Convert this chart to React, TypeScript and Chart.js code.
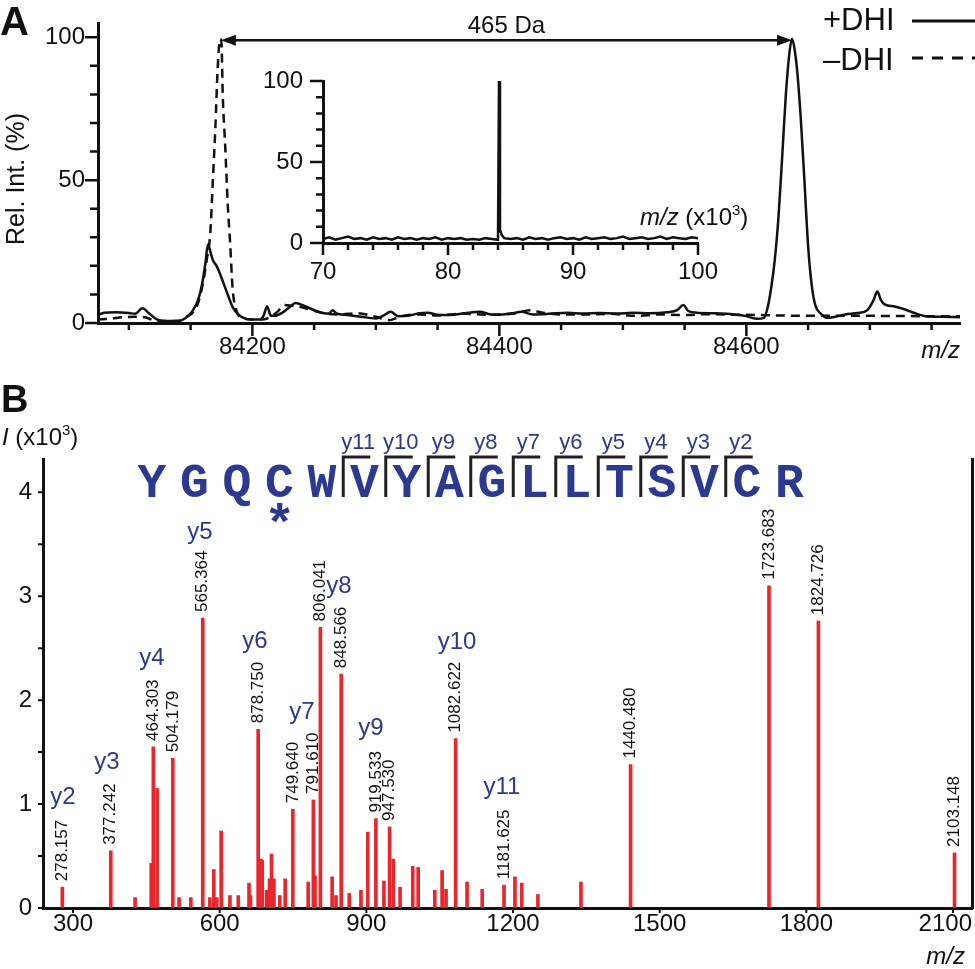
import React, { useEffect, useRef } from 'react';
import { Chart, registerables } from 'chart.js';

Chart.register(...registerables);

const SANS = '"Liberation Sans", Arial, Helvetica, sans-serif';
const MONO = '"Liberation Mono", "Courier New", monospace';
const BLUE = '#2b3990';
const RED = '#e8262b';
const INK = '#111111';

// ---------------- Panel A : deconvoluted spectra ----------------
const plusMz = [84075, 84080, 84090, 84100, 84105, 84111, 84116, 84123, 84132, 84141, 84148, 84152, 84156, 84159, 84162, 84164, 84166, 84168, 84171, 84174, 84177, 84180, 84184, 84188, 84192, 84200, 84206, 84209, 84212, 84215, 84218, 84225, 84230, 84235, 84242, 84250, 84257, 84262, 84265, 84268, 84277, 84288, 84300, 84306, 84312, 84318, 84326, 84334, 84342, 84350, 84360, 84372, 84384, 84392, 84400, 84410, 84418, 84427, 84440, 84455, 84468, 84481, 84495, 84508, 84522, 84536, 84544, 84549, 84553, 84560, 84575, 84590, 84600, 84608, 84614, 84617, 84620, 84623, 84626, 84629, 84632, 84635, 84637, 84639, 84641, 84644, 84647, 84650, 84653, 84656, 84660, 84665, 84672, 84680, 84690, 84698, 84703, 84706, 84709, 84712, 84720, 84728, 84736, 84745, 84760, 84773];
const plusInt = [2.8, 3.6, 3.8, 3.5, 3.2, 5.2, 3.5, 1.2, 0.7, 0.8, 2.5, 4.5, 8, 13, 21, 27.5, 25, 22, 20, 17, 13.5, 10, 5.6, 3.2, 2, 1.2, 1.2, 2.5, 5.8, 2.5, 2.5, 3.8, 5.5, 7, 6, 4.5, 3.5, 3.3, 4.5, 3.4, 2.8, 2.2, 1.6, 2.6, 3.9, 2.4, 2.5, 3.3, 3.6, 2.9, 2.8, 3.4, 3.9, 3.1, 2.9, 3.4, 3.9, 3.0, 3.2, 3.6, 3.3, 3.5, 3.3, 3.6, 3.4, 3.8, 4.5, 6.3, 4.2, 3.6, 3.4, 3.0, 2.4, 1.5, 1.7, 5, 12, 22, 37, 58, 80, 95, 99.5, 96, 89, 72, 50, 27, 13, 6, 3.4, 1.8, 2.2, 3, 3.5, 4.5, 8, 11, 8, 6.5, 5.8, 4.8, 3.5, 2.4, 2.2, 2];
const minusMz = [84075, 84085, 84095, 84105, 84113, 84120, 84130, 84141, 84148, 84152, 84156, 84160, 84163, 84166, 84168, 84170, 84172, 84174, 84175, 84176, 84178, 84180, 84182, 84184, 84187, 84192, 84200, 84210, 84216, 84220, 84226, 84232, 84240, 84250, 84260, 84270, 84285, 84300, 84311, 84320, 84335, 84350, 84370, 84390, 84410, 84425, 84435, 84450, 84470, 84490, 84510, 84530, 84550, 84570, 84590, 84608, 84630, 84660, 84700, 84740, 84773];
const minusInt = [1.2, 1.5, 2, 2.2, 2.0, 1.0, 0.7, 0.8, 2.5, 3.8, 7, 14, 22, 32, 50, 68, 90, 99.5, 98, 80, 62, 42, 28, 12, 4.5, 1.7, 1.2, 1.3, 2.6, 3.8, 6.3, 6, 5.5, 4.3, 3.2, 3.0, 3.4, 2.2, 1.0, 2.3, 3.0, 2.6, 3.3, 2.9, 3.2, 4.5, 3.6, 3.0, 3.0, 3.2, 2.5, 3.0, 2.8, 3.1, 2.9, 2.8, 2.6, 2.5, 2.5, 2.4, 2.4];
const aTicksX = [84200, 84400, 84600];
const aMinorX = [84100, 84150, 84250, 84300, 84350, 84450, 84500, 84550, 84650, 84700, 84750];
const aTicksY = [0, 50, 100];
const aMinorY = [10, 20, 30, 40, 60, 70, 80, 90];
const shiftFrom = 84174.5;
const shiftTo = 84637;
const shiftLevel = 99;
const shiftText = '465 Da';

// ---------------- Inset : full range ----------------
const insetMz = [70, 70.5, 71, 71.5, 72, 72.5, 73, 73.5, 74, 74.5, 75, 75.5, 76, 76.5, 77, 77.5, 78, 78.5, 79, 79.5, 80, 80.5, 81, 81.5, 82, 82.5, 83, 83.5, 84, 84.08, 84.16, 84.3, 84.5, 85, 85.5, 86, 86.5, 87, 87.5, 88, 88.5, 89, 89.5, 90, 90.5, 91, 91.5, 92, 92.5, 93, 93.5, 94, 94.5, 95, 95.5, 96, 96.5, 97, 97.5, 98, 98.5, 99, 99.5, 100];
const insetInt = [2.5, 3.5, 2, 3, 4, 2.5, 3, 2, 3.5, 2.5, 3, 2, 3.5, 2.5, 3, 2, 3, 2.5, 3.5, 2, 3, 2.5, 3, 2, 2.5, 2, 3, 2.5, 2, 100, 8, 5, 3, 2.5, 3, 2, 3.5, 2.5, 3, 2, 3, 3.5, 2.5, 3, 2, 3.5, 2.5, 3, 3.5, 2.5, 3, 4, 2.5, 3, 3.5, 2.5, 3, 4, 2.5, 3.5, 3, 2.5, 3.5, 3];
const iTicksX = [70, 80, 90, 100];
const iMinorX = [72, 74, 76, 78, 82, 84, 86, 88, 92, 94, 96, 98];
const iTicksY = [0, 50, 100];
const iMinorY = [10, 20, 30, 40, 60, 70, 80, 90];

// ---------------- Panel B : MS/MS spectrum ----------------
const labeledMz = [278.157, 377.242, 464.303, 504.179, 565.364, 678.75, 749.64, 791.61, 806.041, 848.566, 919.533, 947.53, 1082.622, 1181.625, 1440.48, 1723.683, 1824.726, 2103.148];
const labeledInt = [0.20, 0.55, 1.55, 1.44, 2.79, 1.72, 0.95, 1.04, 2.70, 2.25, 0.86, 0.78, 1.63, 0.22, 1.38, 3.10, 2.76, 0.53];
const labeledText = ['278.157', '377.242', '464.303', '504.179', '565.364', '878.750', '749.640', '791.610', '806.041', '848.566', '919.533', '947.530', '1082.622', '1181.625', '1440.480', '1723.683', '1824.726', '2103.148'];
const otherMz = [427, 460, 472, 517, 541, 580, 588, 594, 603, 621, 638, 660, 663, 684, 687, 696, 702, 706, 711, 723, 734, 781, 795, 830, 838, 865, 889, 903, 936, 955, 969, 995, 1006, 1040, 1055, 1063, 1106, 1137, 1204, 1218, 1251, 1339];
const otherInt = [0.10, 0.43, 1.15, 0.10, 0.10, 0.10, 0.37, 0.10, 0.74, 0.12, 0.12, 0.24, 0.12, 0.47, 0.46, 0.17, 0.28, 0.52, 0.28, 0.12, 0.28, 0.25, 0.31, 0.30, 0.12, 0.14, 0.17, 0.73, 0.26, 0.47, 0.20, 0.40, 0.39, 0.17, 0.36, 0.18, 0.25, 0.18, 0.30, 0.24, 0.13, 0.25];
const ionNames = ['y2', 'y3', 'y4', 'y5', 'y6', 'y7', 'y8', 'y9', 'y10', 'y11'];
const ionMz = [279.5, 369.5, 461.6, 559.8, 672.3, 768.4, 844.1, 909.5, 1085.4, 1177.5];
const ionInt = [1.06, 1.40, 2.40, 3.61, 2.57, 1.88, 3.09, 1.73, 2.56, 1.16];
const peptide = ['Y', 'G', 'Q', 'C', 'W', 'V', 'Y', 'A', 'G', 'L', 'L', 'T', 'S', 'V', 'C', 'R'];
const fragmentStart = 5; // first residue preceded by a y-ion cleavage bracket
const modifiedIndex = 3; // Cys carrying the adduct (*)
const bTicksX = [300, 600, 900, 1200, 1500, 1800, 2100];
const bTicksY = [0, 1, 2, 3, 4];
const bMinorY = [0.5, 1.5, 2.5, 3.5];

type Seg = { t: string; font: string; dy?: number };
function drawSegs(ctx: CanvasRenderingContext2D, segs: Seg[], x: number, y: number, color: string) {
  let cx = x;
  ctx.fillStyle = color;
  ctx.textAlign = 'left';
  ctx.textBaseline = 'alphabetic';
  for (const s of segs) {
    ctx.font = s.font;
    ctx.fillText(s.t, cx, y + (s.dy || 0));
    cx += ctx.measureText(s.t).width;
  }
}

function tickMarks(ctx: CanvasRenderingContext2D, scale: any, values: number[], len: number, width: number) {
  ctx.save();
  ctx.strokeStyle = INK;
  ctx.lineWidth = width;
  ctx.beginPath();
  for (const v of values) {
    const p = scale.getPixelForValue(v);
    if (scale.isHorizontal()) {
      ctx.moveTo(p, scale.top);
      ctx.lineTo(p, scale.top + len);
    } else {
      ctx.moveTo(scale.right, p);
      ctx.lineTo(scale.right - len, p);
    }
  }
  ctx.stroke();
  ctx.restore();
}

function fixedTicks(values: number[]) {
  return (s: any) => {
    s.ticks = values.map((v) => ({ value: v }));
  };
}

function axis(min: number, max: number, ticks: number[], size: number, padding: number, horizontal: boolean, showLabels = true) {
  return {
    type: 'linear' as const,
    min,
    max,
    offset: false,
    afterBuildTicks: fixedTicks(ticks),
    afterFit: (s: any) => {
      if (horizontal) s.height = size;
      else s.width = size;
      s.paddingLeft = 0;
      s.paddingRight = 0;
      s.paddingTop = 0;
      s.paddingBottom = 0;
    },
    grid: { display: true, drawOnChartArea: false, drawTicks: false, offset: false },
    border: { display: true, color: INK, width: 3 },
    ticks: {
      display: showLabels,
      color: INK,
      padding,
      autoSkip: false,
      maxRotation: 0,
      font: { family: SANS, size: 24, lineHeight: 1 },
      callback: (v: any) => String(v),
    },
  };
}

function makeA(canvas: HTMLCanvasElement) {
  const decor = {
    id: 'decorA',
    afterDraw(chart: any) {
      const { ctx } = chart;
      const x = chart.scales.x;
      const y = chart.scales.y;
      tickMarks(ctx, x, aTicksX, 13, 2.5);
      tickMarks(ctx, x, aMinorX, 7, 2.5);
      tickMarks(ctx, y, aTicksY, 13, 2.5);
      tickMarks(ctx, y, aMinorY, 8, 2.5);
      ctx.save();
      // mass shift arrow
      const ay = y.getPixelForValue(shiftLevel);
      const x1 = x.getPixelForValue(shiftFrom);
      const x2 = x.getPixelForValue(shiftTo);
      ctx.strokeStyle = INK;
      ctx.fillStyle = INK;
      ctx.lineWidth = 2.5;
      ctx.beginPath();
      ctx.moveTo(x1 + 10, ay);
      ctx.lineTo(x2 - 10, ay);
      ctx.stroke();
      ctx.beginPath();
      ctx.moveTo(x1, ay);
      ctx.lineTo(x1 + 15, ay - 5.5);
      ctx.lineTo(x1 + 15, ay + 5.5);
      ctx.closePath();
      ctx.fill();
      ctx.beginPath();
      ctx.moveTo(x2, ay);
      ctx.lineTo(x2 - 15, ay - 5.5);
      ctx.lineTo(x2 - 15, ay + 5.5);
      ctx.closePath();
      ctx.fill();
      ctx.font = `24px ${SANS}`;
      ctx.textAlign = 'center';
      ctx.textBaseline = 'alphabetic';
      ctx.fillText(shiftText, (x1 + x2) / 2, ay - 7);
      // panel letter
      ctx.font = `bold 40px ${SANS}`;
      ctx.textAlign = 'left';
      ctx.fillText('A', 0, 35);
      // axis titles
      ctx.save();
      ctx.translate(17, 179);
      ctx.rotate(-Math.PI / 2);
      ctx.font = `25px ${SANS}`;
      ctx.textAlign = 'center';
      ctx.textBaseline = 'middle';
      ctx.fillText('Rel. Int. (%)', 0, 0);
      ctx.restore();
      ctx.font = `italic 24px ${SANS}`;
      ctx.textAlign = 'right';
      ctx.fillText('m/z', 960, 358);
      // legend
      ctx.font = `31px ${SANS}`;
      ctx.textAlign = 'left';
      ctx.fillText('+DHI', 823, 30);
      ctx.fillText('\u2013DHI', 823, 70);
      ctx.lineWidth = 3;
      ctx.beginPath();
      ctx.moveTo(912, 21);
      ctx.lineTo(975, 21);
      ctx.stroke();
      ctx.setLineDash([11, 9]);
      ctx.beginPath();
      ctx.moveTo(912, 58);
      ctx.lineTo(975, 58);
      ctx.stroke();
      ctx.restore();
    },
  };
  return new Chart(canvas, {
    type: 'line',
    data: {
      datasets: [
        {
          label: '+DHI',
          data: plusMz.map((v, i) => ({ x: v, y: plusInt[i] })),
          borderColor: INK,
          borderWidth: 2.5,
          pointRadius: 0,
          cubicInterpolationMode: 'monotone',
          fill: false,
        },
        {
          label: '\u2013DHI',
          data: minusMz.map((v, i) => ({ x: v, y: minusInt[i] })),
          borderColor: INK,
          borderWidth: 2.5,
          borderDash: [9, 6],
          pointRadius: 0,
          cubicInterpolationMode: 'monotone',
          fill: false,
        },
      ],
    },
    options: {
      animation: false,
      responsive: false,
      maintainAspectRatio: false,
      layout: { padding: { top: 23, right: 15, left: 0, bottom: 0 } },
      plugins: { legend: { display: false }, tooltip: { enabled: false } },
      scales: {
        x: axis(84075, 84773, aTicksX, 47, 12, true),
        y: axis(0, 105, aTicksY, 98, 13, false),
      },
    } as any,
    plugins: [decor],
  });
}

function makeInset(canvas: HTMLCanvasElement) {
  const decor = {
    id: 'decorInset',
    afterDraw(chart: any) {
      const { ctx } = chart;
      tickMarks(ctx, chart.scales.x, iTicksX, 12, 2.5);
      tickMarks(ctx, chart.scales.x, iMinorX, 7, 2.5);
      tickMarks(ctx, chart.scales.y, iTicksY, 13, 2.5);
      tickMarks(ctx, chart.scales.y, iMinorY, 7, 2.5);
      drawSegs(
        ctx,
        [
          { t: 'm/z', font: `italic 24px ${SANS}` },
          { t: ' (x10', font: `24px ${SANS}` },
          { t: '3', font: `15px ${SANS}`, dy: -10 },
          { t: ')', font: `24px ${SANS}` },
        ],
        400,
        165,
        INK,
      );
    },
  };
  return new Chart(canvas, {
    type: 'line',
    data: {
      datasets: [
        {
          label: 'full',
          data: insetMz.map((v, i) => ({ x: v, y: insetInt[i] })),
          borderColor: INK,
          borderWidth: 2.5,
          pointRadius: 0,
          tension: 0,
          fill: false,
        },
      ],
    },
    options: {
      animation: false,
      responsive: false,
      maintainAspectRatio: false,
      layout: { padding: { top: 21, right: 82, left: 0, bottom: 0 } },
      plugins: { legend: { display: false }, tooltip: { enabled: false } },
      scales: {
        x: axis(70, 100, iTicksX, 57, 17, true),
        y: axis(0, 100, iTicksY, 83, 20, false),
      },
    } as any,
    plugins: [decor],
  });
}

function makeB(canvas: HTMLCanvasElement) {
  const top = 370; // page offset of this canvas
  const seqX = (i: number) => 152 + i * 42.5;
  const decor = {
    id: 'decorB',
    afterDraw(chart: any) {
      const { ctx } = chart;
      const x = chart.scales.x;
      const y = chart.scales.y;
      tickMarks(ctx, x, bTicksX, 5, 2);
      tickMarks(ctx, y, bTicksY, 5, 2);
      tickMarks(ctx, y, bMinorY, 5, 2);
      ctx.save();
      // x tick labels (kept inside the canvas at the right edge)
      ctx.fillStyle = INK;
      ctx.font = `24px ${SANS}`;
      ctx.textAlign = 'center';
      ctx.textBaseline = 'middle';
      const W = chart.width;
      bTicksX.forEach((v) => {
        const t = String(v);
        const w = ctx.measureText(t).width;
        const px = Math.min(x.getPixelForValue(v), W - w / 2 - 3);
        ctx.fillText(t, px, x.top + 16);
      });
      // peak m/z labels
      ctx.font = `17px ${SANS}`;
      labeledMz.forEach((m, i) => {
        const px = x.getPixelForValue(m);
        const py = y.getPixelForValue(labeledInt[i]);
        ctx.save();
        ctx.translate(px, py - 6);
        ctx.rotate(-Math.PI / 2);
        ctx.textAlign = 'left';
        ctx.textBaseline = 'middle';
        ctx.fillText(labeledText[i], 0, 0);
        ctx.restore();
      });
      // y-ion labels
      ctx.fillStyle = BLUE;
      ctx.font = `24px ${SANS}`;
      ctx.textAlign = 'center';
      ctx.textBaseline = 'middle';
      ionNames.forEach((n, i) => {
        ctx.fillText(n, x.getPixelForValue(ionMz[i]), y.getPixelForValue(ionInt[i]));
      });
      // peptide sequence
      ctx.font = `bold 48px ${MONO}`;
      ctx.textBaseline = 'alphabetic';
      peptide.forEach((aa, i) => {
        ctx.fillText(aa, seqX(i), 497 - top);
      });
      // modification asterisk
      ctx.font = `bold 52px ${SANS}`;
      ctx.fillText('*', seqX(modifiedIndex), 539 - top);
      // cleavage brackets
      ctx.strokeStyle = '#231f20';
      ctx.lineWidth = 3;
      ctx.font = `22px ${SANS}`;
      for (let i = fragmentStart; i < peptide.length - 1; i++) {
        const bx = (seqX(i - 1) + seqX(i)) / 2;
        ctx.beginPath();
        ctx.moveTo(bx, 497 - top);
        ctx.lineTo(bx, 457 - top);
        ctx.lineTo(bx + 27, 457 - top);
        ctx.stroke();
        ctx.fillStyle = BLUE;
        ctx.textBaseline = 'middle';
        ctx.fillText('y' + (peptide.length - i), bx + 15, 443 - top);
        ctx.textBaseline = 'alphabetic';
      }
      // panel letter and axis titles
      ctx.fillStyle = INK;
      ctx.textAlign = 'left';
      ctx.font = `bold 38px ${SANS}`;
      ctx.fillText('B', 1, 412 - top);
      drawSegs(
        ctx,
        [
          { t: 'I', font: `italic 24px ${SANS}` },
          { t: ' (x10', font: `24px ${SANS}` },
          { t: '3', font: `15px ${SANS}`, dy: -10 },
          { t: ')', font: `24px ${SANS}` },
        ],
        2,
        445 - top,
        INK,
      );
      ctx.font = `italic 24px ${SANS}`;
      ctx.textAlign = 'right';
      ctx.fillText('m/z', 965, 964 - top);
      ctx.restore();
    },
  };
  const all = labeledMz.map((m, i) => ({ x: m, y: labeledInt[i] })).concat(otherMz.map((m, i) => ({ x: m, y: otherInt[i] })));
  const yAxis = axis(0, 4.32, bTicksY, 43, 11, false);
  return new Chart(canvas, {
    type: 'bar',
    data: {
      datasets: [
        {
          label: 'fragments',
          data: all,
          backgroundColor: RED,
          borderWidth: 0,
          barThickness: 3,
        },
      ],
    },
    options: {
      animation: false,
      responsive: false,
      maintainAspectRatio: false,
      layout: { padding: { top: 89, right: 0, left: 0, bottom: 0 } },
      plugins: { legend: { display: false }, tooltip: { enabled: false } },
      scales: {
        x: axis(238.6, 2138.9, bTicksX, 61, 4, true, false),
        y: yAxis,
        y2: {
          type: 'linear',
          position: 'right',
          min: 0,
          max: 4.32,
          afterFit: (s: any) => {
            s.width = 3;
            s.paddingTop = 0;
            s.paddingBottom = 0;
          },
          grid: { display: true, drawOnChartArea: false, drawTicks: false },
          border: { display: true, color: INK, width: 3 },
          ticks: { display: false },
        },
      },
    } as any,
    plugins: [decor],
  });
}

export default function App() {
  const aRef = useRef<HTMLCanvasElement>(null);
  const iRef = useRef<HTMLCanvasElement>(null);
  const bRef = useRef<HTMLCanvasElement>(null);
  useEffect(() => {
    const charts: Chart[] = [];
    if (aRef.current) charts.push(makeA(aRef.current));
    if (iRef.current) charts.push(makeInset(iRef.current));
    if (bRef.current) charts.push(makeB(bRef.current));
    return () => charts.forEach((c) => c.destroy());
  }, []);
  return (
    <div style={{ position: 'absolute', left: 0, top: 0, width: 975, height: 969, background: '#fff', overflow: 'hidden' }}>
      <canvas ref={aRef} width={975} height={370} style={{ position: 'absolute', left: 0, top: 0, width: 975, height: 370 }} />
      <canvas ref={iRef} width={540} height={240} style={{ position: 'absolute', left: 240, top: 60, width: 540, height: 240 }} />
      <canvas ref={bRef} width={975} height={599} style={{ position: 'absolute', left: 0, top: 370, width: 975, height: 599 }} />
    </div>
  );
}
